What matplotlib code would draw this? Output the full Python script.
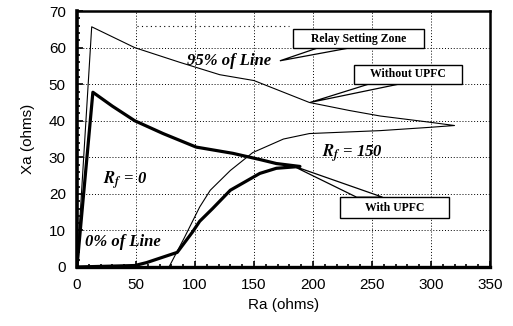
import numpy as np
import matplotlib
matplotlib.use('Agg')
import matplotlib.pyplot as plt
from matplotlib.patches import Rectangle, Polygon
from matplotlib.ticker import MultipleLocator

# apparent impedance trajectories (Ra, Xa) in ohms
with_upfc_x = [0, 13.5, 30, 49, 73, 101, 132, 155, 169, 189, 169, 155, 130, 115, 104, 98, 85, 59, 49, 0]
with_upfc_y = [0, 47.8, 44, 40, 36.5, 32.8, 31.1, 29.4, 28.3, 27.5, 27, 25.6, 21, 16, 12.5, 9.6, 4, 1.2, 0.4, 0]

without_upfc_x = [0, 12.5, 49, 87, 121, 150, 197, 231, 257, 299, 320, 299, 257, 197, 175, 149, 130, 113, 104, 91, 78, 0]
without_upfc_y = [0, 65.7, 60, 56, 52.6, 51, 45, 42.8, 41.3, 39.6, 38.7, 38.2, 37.3, 36.5, 35, 31.3, 26.4, 21, 16.4, 8, 0, 0]

zone_x = [51, 180]
zone_y = [65.8, 65.8]

xticks = [0, 50, 100, 150, 200, 250, 300, 350]
yticks = [0, 10, 20, 30, 40, 50, 60, 70]

plt.rcParams['font.family'] = ['Liberation Sans', 'DejaVu Sans']
plt.rcParams['mathtext.fontset'] = 'stix'

fig = plt.figure(figsize=(5.13, 3.26), dpi=100)
ax = fig.add_axes([0.150, 0.181, 0.805, 0.785])

ax.plot(without_upfc_x, without_upfc_y, color='black', lw=0.8, zorder=3)
ax.plot(with_upfc_x, with_upfc_y, color='black', lw=2.3, zorder=4,
        solid_joinstyle='round', solid_capstyle='round')
ax.plot(zone_x, zone_y, color='black', lw=0.8, ls=(0, (1, 3)), zorder=2)

ax.set_xlim(0, 350)
ax.set_ylim(0, 70)
ax.set_xticks(xticks)
ax.set_yticks(yticks)
ax.xaxis.set_minor_locator(MultipleLocator(10))
ax.yaxis.set_minor_locator(MultipleLocator(2))
ax.tick_params(which='both', direction='in', labelsize=11, width=1.2)
ax.tick_params(which='major', length=4)
ax.tick_params(which='minor', length=2.5)
ax.tick_params(axis='x', pad=8)
ax.tick_params(axis='y', pad=8)
ax.grid(True, color='black', ls=(0, (1, 2)), lw=0.7)
for s in ax.spines.values():
    s.set_linewidth(1.8)
ax.spines['left'].set_linewidth(2.6)
ax.spines['bottom'].set_linewidth(2.4)

ax.set_xlabel('Ra (ohms)', fontsize=11)
ax.set_ylabel('Xa (ohms)', fontsize=11, labelpad=10)

lab = dict(family='Liberation Serif', fontweight='bold', style='italic', fontsize=12, zorder=6)
ax.text(93, 56.4, '95% of Line', va='center', ha='left', **lab)
ax.text(7, 6.8, '0% of Line', va='center', ha='left', **lab)
ax.text(22, 23.7, r'$\mathbfit{R_f}$ = 0', va='center', ha='left', **lab)
ax.text(208, 31, r'$\mathbfit{R_f}$ = 150', va='center', ha='left', **lab)

# callout boxes with wedge pointers
boxes = [
    ('Relay Setting Zone', (183, 59.8, 111, 5.4), [(203, 59.8), (229, 59.8), (172, 56.4)]),
    ('Without UPFC', (235, 50.1, 91, 5.2), [(248, 50.1), (274, 50.1), (197.5, 45)]),
    ('With UPFC', (223, 13.4, 92, 5.7), [(237, 19.1), (259, 19.1), (182, 27.8)]),
]
for text, (bx, by, bw, bh), wedge in boxes:
    ax.add_patch(Polygon(wedge, closed=True, facecolor='white', edgecolor='black', lw=0.9, zorder=7))
    ax.add_patch(Rectangle((bx, by), bw, bh, facecolor='white', edgecolor='black', lw=1.0, zorder=8))
    ax.text(bx + bw / 2, by + bh / 2, text, ha='center', va='center', family='Liberation Serif',
            fontweight='bold', fontsize=8.5, zorder=9)

fig.savefig('out.png', dpi=100)
